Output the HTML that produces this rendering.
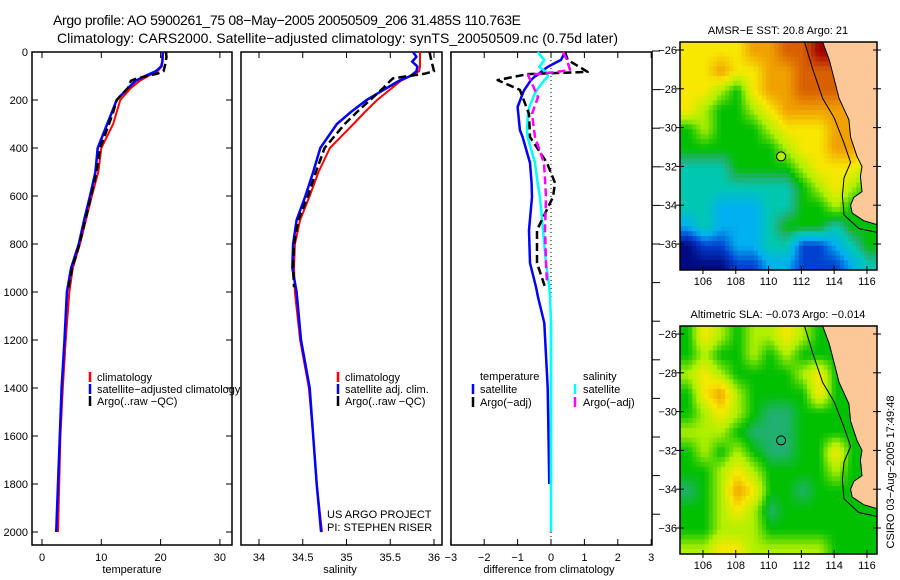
<!DOCTYPE html>
<html><head><meta charset="utf-8"><style>
html,body{margin:0;padding:0;background:#fff}
svg{display:block;font-family:"Liberation Sans",sans-serif}
</style></head><body>
<svg id="c" width="900" height="580" viewBox="0 0 900 580">
<defs><clipPath id="clipTop"><rect x="680" y="42" width="197" height="228"/></clipPath><clipPath id="clipBot"><rect x="680" y="326" width="197" height="228"/></clipPath></defs>
<text x="53" y="25" font-size="14" textLength="468">Argo profile: AO 5900261_75 08−May−2005 20050509_206 31.485S 110.763E</text>
<text x="57" y="43" font-size="14" textLength="561">Climatology: CARS2000. Satellite−adjusted climatology: synTS_20050509.nc (0.75d later)</text>
</svg>
<script>
const depths=[0,20,40,60,80,100,120,150,200,250,300,400,500,600,700,800,900,1000,1200,1400,1600,1800,2000];
const tempClim=[20.4,20.4,20.3,20.2,19.5,17.9,16.5,15.0,13.2,12.6,12.0,10.0,9.5,8.4,7.4,6.4,5.2,4.6,4.0,3.5,3.1,2.9,2.7];
const tempSat=[20.4,20.3,20.3,20.1,19.2,17.4,15.8,14.5,12.6,11.8,11.0,9.4,9.0,8.1,7.1,6.2,4.9,4.2,3.8,3.3,3.0,2.7,2.4];
const argoDepths=[0,20,50,80,90,110,120,150,200,250,300,400,500,600,700,800,900,980];
const tempArgo=[20.9,21.0,20.8,20.5,19.5,16.0,15.0,14.5,12.6,12.0,11.3,9.8,9.2,8.3,7.3,6.3,5.1,4.5];
const salClim=[35.84,35.84,35.84,35.84,35.83,35.73,35.62,35.52,35.35,35.21,35.08,34.81,34.68,34.58,34.47,34.41,34.40,34.41,34.47,34.57,34.62,34.66,34.72];
const salSat=[35.76,35.80,35.75,35.81,35.80,35.73,35.60,35.46,35.23,35.05,34.89,34.70,34.62,34.53,34.43,34.39,34.38,34.43,34.48,34.58,34.62,34.66,34.71];
const salArgo=[35.95,35.96,35.98,36.0,35.9,35.53,35.50,35.42,35.27,35.12,34.98,34.75,34.65,34.56,34.45,34.40,34.39,34.40];
const diffDepths=[0,33,62,83,95,104,117,158,171,229,258,325,354,462,546,604,742,879,979,1021,1129,1400,1800];
const diffTempSat=[0.42,0.3,-0.1,-0.3,-0.4,-0.5,-0.6,-0.8,-0.84,-1.0,-0.98,-0.93,-0.85,-0.63,-0.58,-0.57,-0.66,-0.63,-0.45,-0.39,-0.2,-0.1,-0.05];
const diffSalSat=[-0.4,-0.2,-0.35,-0.15,-0.1,-0.1,-0.2,-0.42,-0.48,-0.65,-0.69,-0.72,-0.7,-0.48,-0.4,-0.33,-0.24,-0.15,-0.05,-0.03,0,0,0];
const salDiffTail=[1129,2000];
const argoDiffDepths=[0,33,83,92,117,158,258,354,462,546,604,742,879,979];
const diffTempArgo=[0.42,0.5,1.1,-0.7,-1.6,-0.93,-0.66,-0.63,-0.12,0.12,0.06,-0.42,-0.42,-0.18];
const argoSalDiffDepths=[0,33,75,85,96,187,258,354,462,604,742,879,963];
const diffSalArgo=[0.36,0.48,0.57,0.06,-0.69,-0.39,-0.57,-0.48,-0.21,-0.15,-0.18,-0.15,-0.12];
const depthTicks=[0,200,400,600,800,1000,1200,1400,1600,1800,2000];
const tempTicks=[0,10,20,30];
const salTicks=[34,34.5,35,35.5,36];
const diffTicks=[-3,-2,-1,0,1,2,3];
const mapLatTicks=[-26,-28,-30,-32,-34,-36];
const mapLonTicks=[106,108,110,112,114,116];
const sstGrid=[
[6,6,6,6,7,7,8,8,9,9,-1,-1],
[6,6,7,6,6,7,7,8,8,8,7,-1],
[6,6,5,4,6,7,7,8,8,8,7,-1],
[6,5,4,4,5,6,7,7,7,7,7,6],
[4,5,4,4,4,5,6,6,6,7,7,6],
[4,4,4,4,4,4,5,6,6,7,7,6],
[3,3,3,4,4,4,4,5,6,6,6,5],
[3,3,3,3,3,3,3,4,5,6,5,4],
[3,3,2,2,2,3,3,4,4,5,4,4],
[2,3,2,2,2,3,4,4,4,3,4,4],
[0,1,1,2,2,3,3,1,1,2,3,4],
[0,0,0,1,1,2,2,1,1,1,2,3]];
const slaGrid=[
[4,6,5,4,5,5,6,5,4,4,4,4],
[4,5,4,4,5,4,5,4,4,4,4,4],
[5,6,5,4,4,4,4,5,6,4,4,4],
[4,6,7,5,4,4,4,4,6,4,4,4],
[4,5,6,5,4,3.5,3.5,4,4,4,4,4],
[5,5,5,4,3.5,3.5,3.5,4,4,4,4,4],
[4,5,4,5,4,3.5,3.5,4,4,6,4,4],
[4,4,5,6,5,4,4,4,4,5,4,4],
[3.5,4,5,7,6,4,4,3.5,4,4,4,4],
[4,4,5,6,5,3.5,4,4,4,4,4,4],
[4,4,5,5,5,4,4,4,4,4,4,4],
[5,5,6,6,5,5,5,5,5,4,4,4]];
const coastLon=[113.3,113.7,114.0,114.3,114.9,115.0,115.4,115.7,115.6,115.7,115.2,115.0,115.1,115.8,116.6];
const coastLat=[-25.6,-26.5,-27.5,-28.5,-29.6,-30.5,-31.5,-32.0,-32.5,-33.3,-33.6,-34.0,-34.4,-34.8,-35.0];
const isoLon=[112.2,112.7,113.3,114.0,114.6,115.0,114.6,114.5,114.6,115.5,116.6];
const isoLat=[-25.6,-27,-28.5,-29.5,-30.8,-31.8,-32.6,-33.5,-34.5,-35.2,-35.4];
const floatLon=110.763, floatLat=-31.485;

const NS='http://www.w3.org/2000/svg';
const svg=document.getElementById('c');
function el(t,a,p){const e=document.createElementNS(NS,t);for(const k in a)e.setAttribute(k,a[k]);(p||svg).appendChild(e);return e;}
const yD=d=>52+d*0.24;
const xT=t=>42+t*5.93;
const xS=s=>259+(s-34)*87.5;
const xD=v=>551+v*33.4;

function frame(x0,x1,name){
  const r=el('rect',{x:x0,y:52,width:x1-x0,height:493,fill:'none',stroke:'#000','stroke-width':1.5});
  
  
}
frame(32,232,'temperature-panel');frame(241,442,'salinity-panel');frame(451,652,'difference-panel');

function xticks(vals,fx,labelFmt,axisName){
  vals.forEach(v=>{const x=fx(v);
    el('line',{x1:x,y1:545,x2:x,y2:539,stroke:'#000'});
    el('line',{x1:x,y1:52,x2:x,y2:58,stroke:'#000'});
    const t=el('text',{x:x,y:561,'font-size':11,'text-anchor':'middle'});t.textContent=labelFmt(v);
    
    
  });
}
xticks(tempTicks,xT,v=>String(v),'temperature');
xticks(salTicks,xS,v=>String(v),'salinity');
xticks(diffTicks,xD,v=>String(v).replace('-','−'),'difference');
depthTicks.forEach(d=>{const y=yD(d);
  el('line',{x1:32,y1:y,x2:38,y2:y,stroke:'#000'});
  el('line',{x1:232,y1:y,x2:226,y2:y,stroke:'#000'});
  const t=el('text',{x:28,y:y+4,'font-size':11,'text-anchor':'end'});t.textContent=d;
  
  
});
for(let i=0;i<13;i++){const y=51+i*38.6;el('line',{x1:652,y1:y,x2:660,y2:y,stroke:'#000'});}
[['temperature',132],['salinity',340],['difference from climatology',549]].forEach(([s,x])=>{
  const t=el('text',{x:x,y:573,'font-size':11,'text-anchor':'middle'});t.textContent=s;
  
  
});
el('line',{x1:551,y1:52,x2:551,y2:545,stroke:'#000','stroke-dasharray':'1,3'});

function line(ds,vs,fx,color,w,dash,name){
  const pts=ds.map((d,i)=>fx(vs[i]).toFixed(1)+','+yD(d).toFixed(1)).join(' ');
  const a={points:pts,fill:'none',stroke:color,'stroke-width':w,'stroke-linejoin':'round'};
  if(dash)a['stroke-dasharray']=dash;
  const p=el('polyline',a);
  
  
}
line(depths,tempClim,xT,'#f00',2,null,'temperature-climatology-line');
line(depths,tempSat,xT,'#00f',2.5,null,'temperature-satellite-line');
line(argoDepths,tempArgo,xT,'#000',2.5,'8,4','temperature-argo-line');
line(depths,salClim,xS,'#f00',2,null,'salinity-climatology-line');
line(depths,salSat,xS,'#00f',2.5,null,'salinity-satellite-line');
line(argoDepths,salArgo,xS,'#000',2.5,'8,4','salinity-argo-line');
line(diffDepths,diffTempSat,xD,'#00f',2.5,null,'temperature-diff-satellite-line');
line(diffDepths,diffSalSat,xD,'#0ff',2.5,null,'salinity-diff-satellite-line');
line(salDiffTail,[0,0],xD,'#0ff',2.5,null,'salinity-diff-tail');
line(argoDiffDepths,diffTempArgo,xD,'#000',2.5,'8,4','temperature-diff-argo-line');
line(argoSalDiffDepths,diffSalArgo,xD,'#f0f',2.5,'8,4','salinity-diff-argo-line');

function legend(x,y,color,label,name){
  el('line',{x1:x,y1:y-9,x2:x,y2:y+1,stroke:color,'stroke-width':2.5});
  const t=el('text',{x:x+7,y:y,'font-size':11});t.textContent=label;
  
  
}
legend(90,381,'#f00','climatology','legend-climatology');
legend(90,393,'#00f','satellite−adjusted climatology','legend-satellite');
legend(90,405,'#000','Argo(..raw −QC)','legend-argo');
legend(338,381,'#f00','climatology','legend-climatology-sal');
legend(338,393,'#00f','satellite adj. clim.','legend-satellite-sal');
legend(338,405,'#000','Argo(..raw −QC)','legend-argo-sal');
[['temperature',null],['satellite','#00f'],['Argo(−adj)','#000']].forEach(([s,c],i)=>{
  if(c)el('line',{x1:473,y1:371+i*13,x2:473,y2:381+i*13,stroke:c,'stroke-width':2.5});
  const t=el('text',{x:480,y:380+i*13,'font-size':11});t.textContent=s;
  
  
});
[['salinity',null],['satellite','#0ff'],['Argo(−adj)','#f0f']].forEach(([s,c],i)=>{
  if(c)el('line',{x1:575,y1:371+i*13,x2:575,y2:381+i*13,stroke:c,'stroke-width':2.5});
  const t=el('text',{x:583,y:380+i*13,'font-size':11});t.textContent=s;
  
  
});
[['US ARGO PROJECT',518],['PI: STEPHEN RISER',531]].forEach(([s,y])=>{
  const t=el('text',{x:327,y:y,'font-size':11});t.textContent=s;
  
  
});

const stops=[[0,[0,10,128]],[1,[0,64,208]],[2,[0,176,240]],[3,[0,200,176]],[3.5,[32,176,112]],[4,[0,192,0]],[5,[176,240,0]],[6,[248,232,0]],[7,[240,160,0]],[8,[216,96,0]],[9,[160,0,0]]];
function cmap(v){for(let i=0;i<stops.length-1;i++){const[a,ca]=stops[i],[b,cb]=stops[i+1];if(v<=b){const f=(v-a)/(b-a);return 'rgb('+ca.map((c,k)=>Math.round(c+(cb[k]-c)*f)).join(',')+')';}}return 'rgb(160,0,0)';}

function sample(grid,fi,fj,fill){
  const R=grid.length,C=grid[0].length;
  const g=(j,i)=>{j=Math.max(0,Math.min(R-1,j));i=Math.max(0,Math.min(C-1,i));const v=grid[j][i];return v<0?fill:v;};
  const i0=Math.floor(fi),j0=Math.floor(fj),a=fi-i0,b=fj-j0;
  return g(j0,i0)*(1-a)*(1-b)+g(j0,i0+1)*a*(1-b)+g(j0+1,i0)*(1-a)*b+g(j0+1,i0+1)*a*b;
}
function map(top,grid,title,name,floatFill,clip,landFill){
  const g=el('g',{});
  const X=lon=>680+(lon-104.6)*16.4;
  const Y=lat=>top+8+(-26-lat)*19.4;
  const yTop=top, yBot=top+228;
  const cg=el('g',{'clip-path':'url(#'+clip+')'},g);
  const S=4;
  for(let j=0;j<grid.length*S;j++)for(let i=0;i<grid[0].length*S;i++){
    const v=sample(grid,(i+0.5)/S-0.5,(j+0.5)/S-0.5,landFill);
    const x=X(104.6+i/S), y=Y(-25.59-j/S);
    const r=el('rect',{x:x.toFixed(2),y:y.toFixed(2),width:(16.4/S+0.4).toFixed(2),height:(19.4/S+0.4).toFixed(2),fill:cmap(v)},cg);
    
    
  }
  const cp=coastLon.map((l,i)=>X(l).toFixed(1)+','+Y(coastLat[i]).toFixed(1));
  el('polygon',{points:cp.join(' ')+' '+X(116.8)+','+Y(-35.0)+' '+X(116.8)+','+Y(-25.4)+' '+X(113.3)+','+Y(-25.4),fill:'#fcc898',stroke:'#000','stroke-width':1},cg);
  el('polyline',{points:isoLon.map((l,i)=>X(l).toFixed(1)+','+Y(isoLat[i]).toFixed(1)).join(' '),fill:'none',stroke:'#000','stroke-width':1},cg);
  el('rect',{x:680,y:yTop,width:197,height:228,fill:'none',stroke:'#000','stroke-width':1.5},g);
  const c=el('circle',{cx:X(floatLon),cy:Y(floatLat),r:4.5,fill:floatFill,stroke:'#000','stroke-width':1},g);
  
  
  mapLatTicks.forEach(l=>{const y=Y(l);
    el('line',{x1:676,y1:y,x2:684,y2:y,stroke:'#000'},g);el('line',{x1:873,y1:y,x2:881,y2:y,stroke:'#000'},g);
    const t=el('text',{x:677,y:y+4,'font-size':11,'text-anchor':'end'},g);t.textContent=String(l).replace('-','−');
  });
  mapLonTicks.forEach(l=>{const x=X(l);
    el('line',{x1:x,y1:yBot-4,x2:x,y2:yBot+4,stroke:'#000'},g);
    const t=el('text',{x:x,y:yBot+15,'font-size':11,'text-anchor':'middle'},g);t.textContent=l;
  });
  const t=el('text',{x:778,y:top-8,'font-size':11,'text-anchor':'middle'},g);t.textContent=title;
  
  
}
map(42,sstGrid,'AMSR−E SST: 20.8 Argo: 21','sst-map','#b0f000','clipTop',7);
map(326,slaGrid,'Altimetric SLA: −0.073 Argo: −0.014','sla-map','#20b070','clipBot',4);
const st=el('text',{x:0,y:0,'font-size':11,'text-anchor':'middle',transform:'translate(894,472) rotate(-90)'});
st.textContent='CSIRO 03−Aug−2005 17:49:48';


</script>
</body></html>
